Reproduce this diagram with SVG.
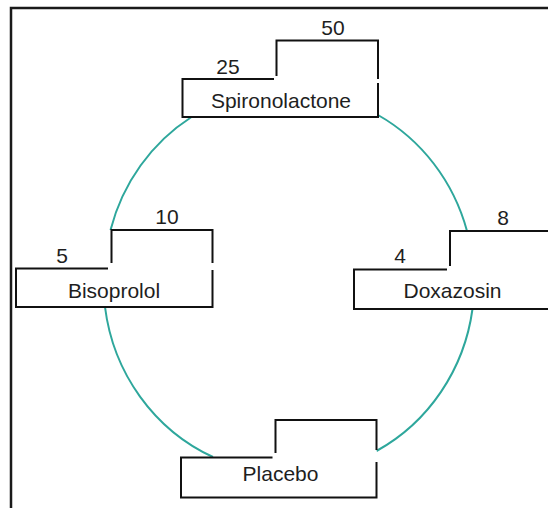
<svg xmlns="http://www.w3.org/2000/svg" width="548" height="508" viewBox="0 0 548 508">
  <style>
    .frame { fill: none; stroke: #1a1a1a; stroke-width: 2.5; }
    .arc { fill: none; stroke: #2ea79c; stroke-width: 2; }
    .bg { fill: #ffffff; stroke: none; }
    .edge { fill: none; stroke: #111111; stroke-width: 2; }
    .lbl { font-family: "Liberation Sans", Arial, sans-serif; font-size: 21px; fill: #1e1e1e; text-anchor: middle; }
  </style>
  <rect x="0" y="0" width="548" height="508" fill="#ffffff"/>
  <!-- outer frame: top and left rules -->
  <path class="frame" d="M11,508 V8 H548"/>

  <!-- ring connecting the four treatments -->
  <g id="connectors">
    <path class="arc" d="M378,115 A185,191 0 0 1 467,231"/>
    <path class="arc" d="M191.5,117 A185,191 0 0 0 110.5,230"/>
    <path class="arc" d="M105,307 A185,191 0 0 0 213,457"/>
    <path class="arc" d="M472.5,309 A185,191 0 0 1 376.5,451"/>
  </g>

  <g id="spironolactone">
    <path class="bg" d="M182.5,79 H276.5 V40.5 H378 V117 H182.5 Z"/>
    <path class="edge" d="M274,79 H182.5 V117 H378 V83 M378,79 V40.5 H276.5 V76"/>
    <text class="lbl" x="281" y="108">Spironolactone</text>
    <text class="lbl" x="228" y="74">25</text>
    <text class="lbl" x="333" y="35">50</text>
  </g>

  <g id="bisoprolol">
    <path class="bg" d="M16,268.5 H111.5 V230 H212.5 V307 H16 Z"/>
    <path class="edge" d="M108,268.5 H16 V307 H212.5 V270 M212.5,263 V230 H111.5 V263"/>
    <text class="lbl" x="114" y="298">Bisoprolol</text>
    <text class="lbl" x="62" y="262.5">5</text>
    <text class="lbl" x="167" y="224">10</text>
  </g>

  <g id="doxazosin">
    <path class="bg" d="M354,269.5 H450 V231 H549 V309 H354 Z"/>
    <path class="edge" d="M447,269.5 H354 V309 H549 M549,231 H450 V266"/>
    <text class="lbl" x="452.5" y="298">Doxazosin</text>
    <text class="lbl" x="400" y="263">4</text>
    <text class="lbl" x="503" y="225">8</text>
  </g>

  <g id="placebo">
    <path class="bg" d="M181,457.5 H275.5 V420 H376.5 V497.5 H181 Z"/>
    <path class="edge" d="M272.5,457.5 H181 V497.5 H376.5 V462 M376.5,450 V420 H275.5 V453"/>
    <text class="lbl" x="280.5" y="481">Placebo</text>
  </g>
</svg>
